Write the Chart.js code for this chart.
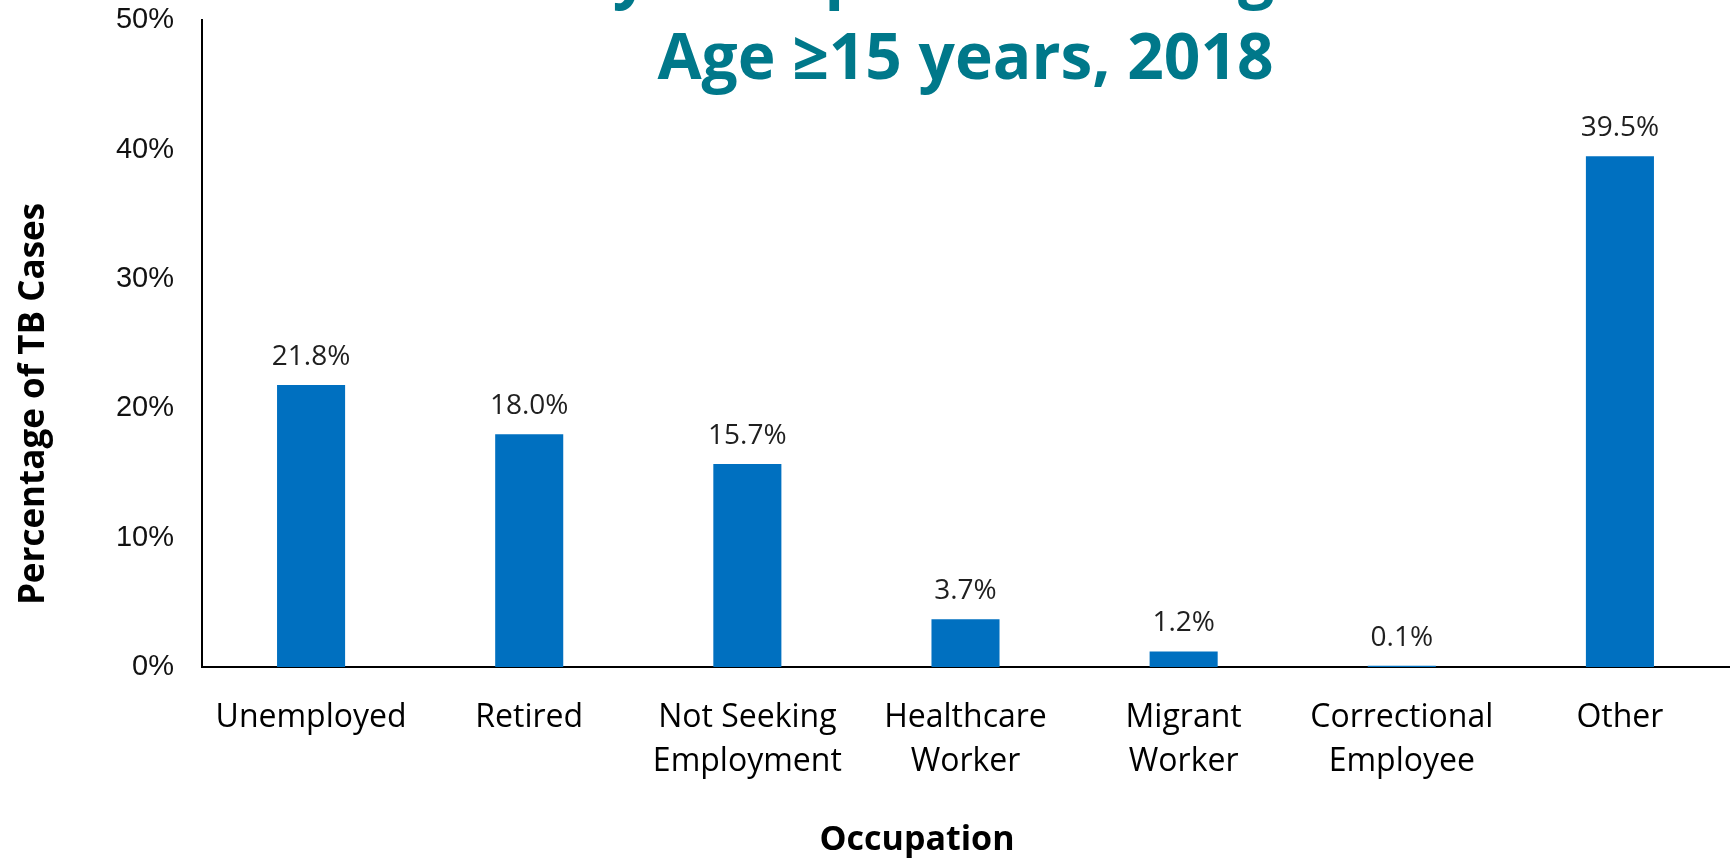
<!DOCTYPE html>
<html>
<head>
<meta charset="utf-8">
<script src="https://cdn.jsdelivr.net/npm/chart.js@4"></script>
<style>
  html, body { margin: 0; padding: 0; background: #fff; overflow: hidden; width: 1732px; height: 861px; }
  #wrap { position: absolute; left: 0; top: -80px; width: 1732px; height: 941px; }
</style>
</head>
<body>
<div id="wrap"><canvas id="c" width="1732" height="941"></canvas></div>
<script>
const titleLines = ["TB Cases by Occupation Among TB Patients", "Age \u226515 years, 2018"];
const categories = [
  ["Unemployed"],
  ["Retired"],
  ["Not Seeking", "Employment"],
  ["Healthcare", "Worker"],
  ["Migrant", "Worker"],
  ["Correctional", "Employee"],
  ["Other"]
];
const percentValues = [21.8, 18.0, 15.7, 3.7, 1.2, 0.1, 39.5];
const yTickValues = [0, 10, 20, 30, 40, 50];
const xAxisTitle = "Occupation";
const yAxisTitle = "Percentage of TB Cases";

const BAR_COLOR = "#0070C0";
const TITLE_COLOR = "#00788A";

const extraText = {
  id: "extraText",
  afterDatasetsDraw(chart) {
    const ctx = chart.ctx;
    const meta = chart.getDatasetMeta(0);
    ctx.save();
    ctx.fillStyle = "#1f1f1f";
    ctx.font = "28px 'Open Sans'";
    ctx.textAlign = "center";
    ctx.textBaseline = "alphabetic";
    meta.data.forEach((bar, i) => {
      const v = chart.data.datasets[0].data[i];
      ctx.fillText(v.toFixed(1) + "%", bar.x, bar.y - 20);
    });
    ctx.restore();
  },
  afterDraw(chart) {
    const ctx = chart.ctx;
    ctx.save();
    ctx.fillStyle = "#000";
    ctx.font = "bold 34px 'Open Sans'";
    ctx.textAlign = "center";
    ctx.textBaseline = "alphabetic";
    ctx.fillText(xAxisTitle, 917, 930);
    ctx.translate(44, 484);
    ctx.rotate(-Math.PI / 2);
    ctx.font = "bold 35px 'Open Sans'";
    ctx.fillText(yAxisTitle, 0, 0);
    ctx.restore();
  }
};

new Chart(document.getElementById("c"), {
  type: "bar",
  data: {
    labels: categories,
    datasets: [{
      data: percentValues,
      backgroundColor: BAR_COLOR,
      borderWidth: 0,
      barPercentage: 0.312,
      categoryPercentage: 1.0
    }]
  },
  options: {
    responsive: false,
    animation: false,
    devicePixelRatio: 1,
    layout: { padding: { left: 0, right: 3, top: 0, bottom: 0 } },
    plugins: {
      legend: { display: false },
      tooltip: { enabled: false },
      title: {
        display: true,
        fullSize: false,
        text: titleLines,
        color: TITLE_COLOR,
        font: { family: "'Open Sans'", size: 64, weight: "bold", lineHeight: 1.3 },
        padding: { top: 15.5, bottom: -81.5 }
      }
    },
    scales: {
      x: {
        grid: { display: false, drawTicks: false },
        border: { display: true, color: "#000", width: 2 },
        ticks: {
          color: "#000",
          font: { family: "'Open Sans'", size: 32, lineHeight: 1.375 },
          padding: 29,
          maxRotation: 0,
          autoSkip: false
        },
        afterFit(scale) { scale.height = 194; }
      },
      y: {
        min: 0,
        max: 50,
        afterBuildTicks(scale) { scale.ticks = yTickValues.map(v => ({ value: v })); },
        grid: { display: false, drawTicks: false },
        border: { display: true, color: "#000", width: 2 },
        ticks: {
          color: "#111",
          font: { family: "'Liberation Sans'", size: 29 },
          padding: 28,
          callback: v => v + "%"
        },
        afterFit(scale) { scale.width = 202; }
      }
    }
  },
  plugins: [extraText]
});
</script>
</body>
</html>
